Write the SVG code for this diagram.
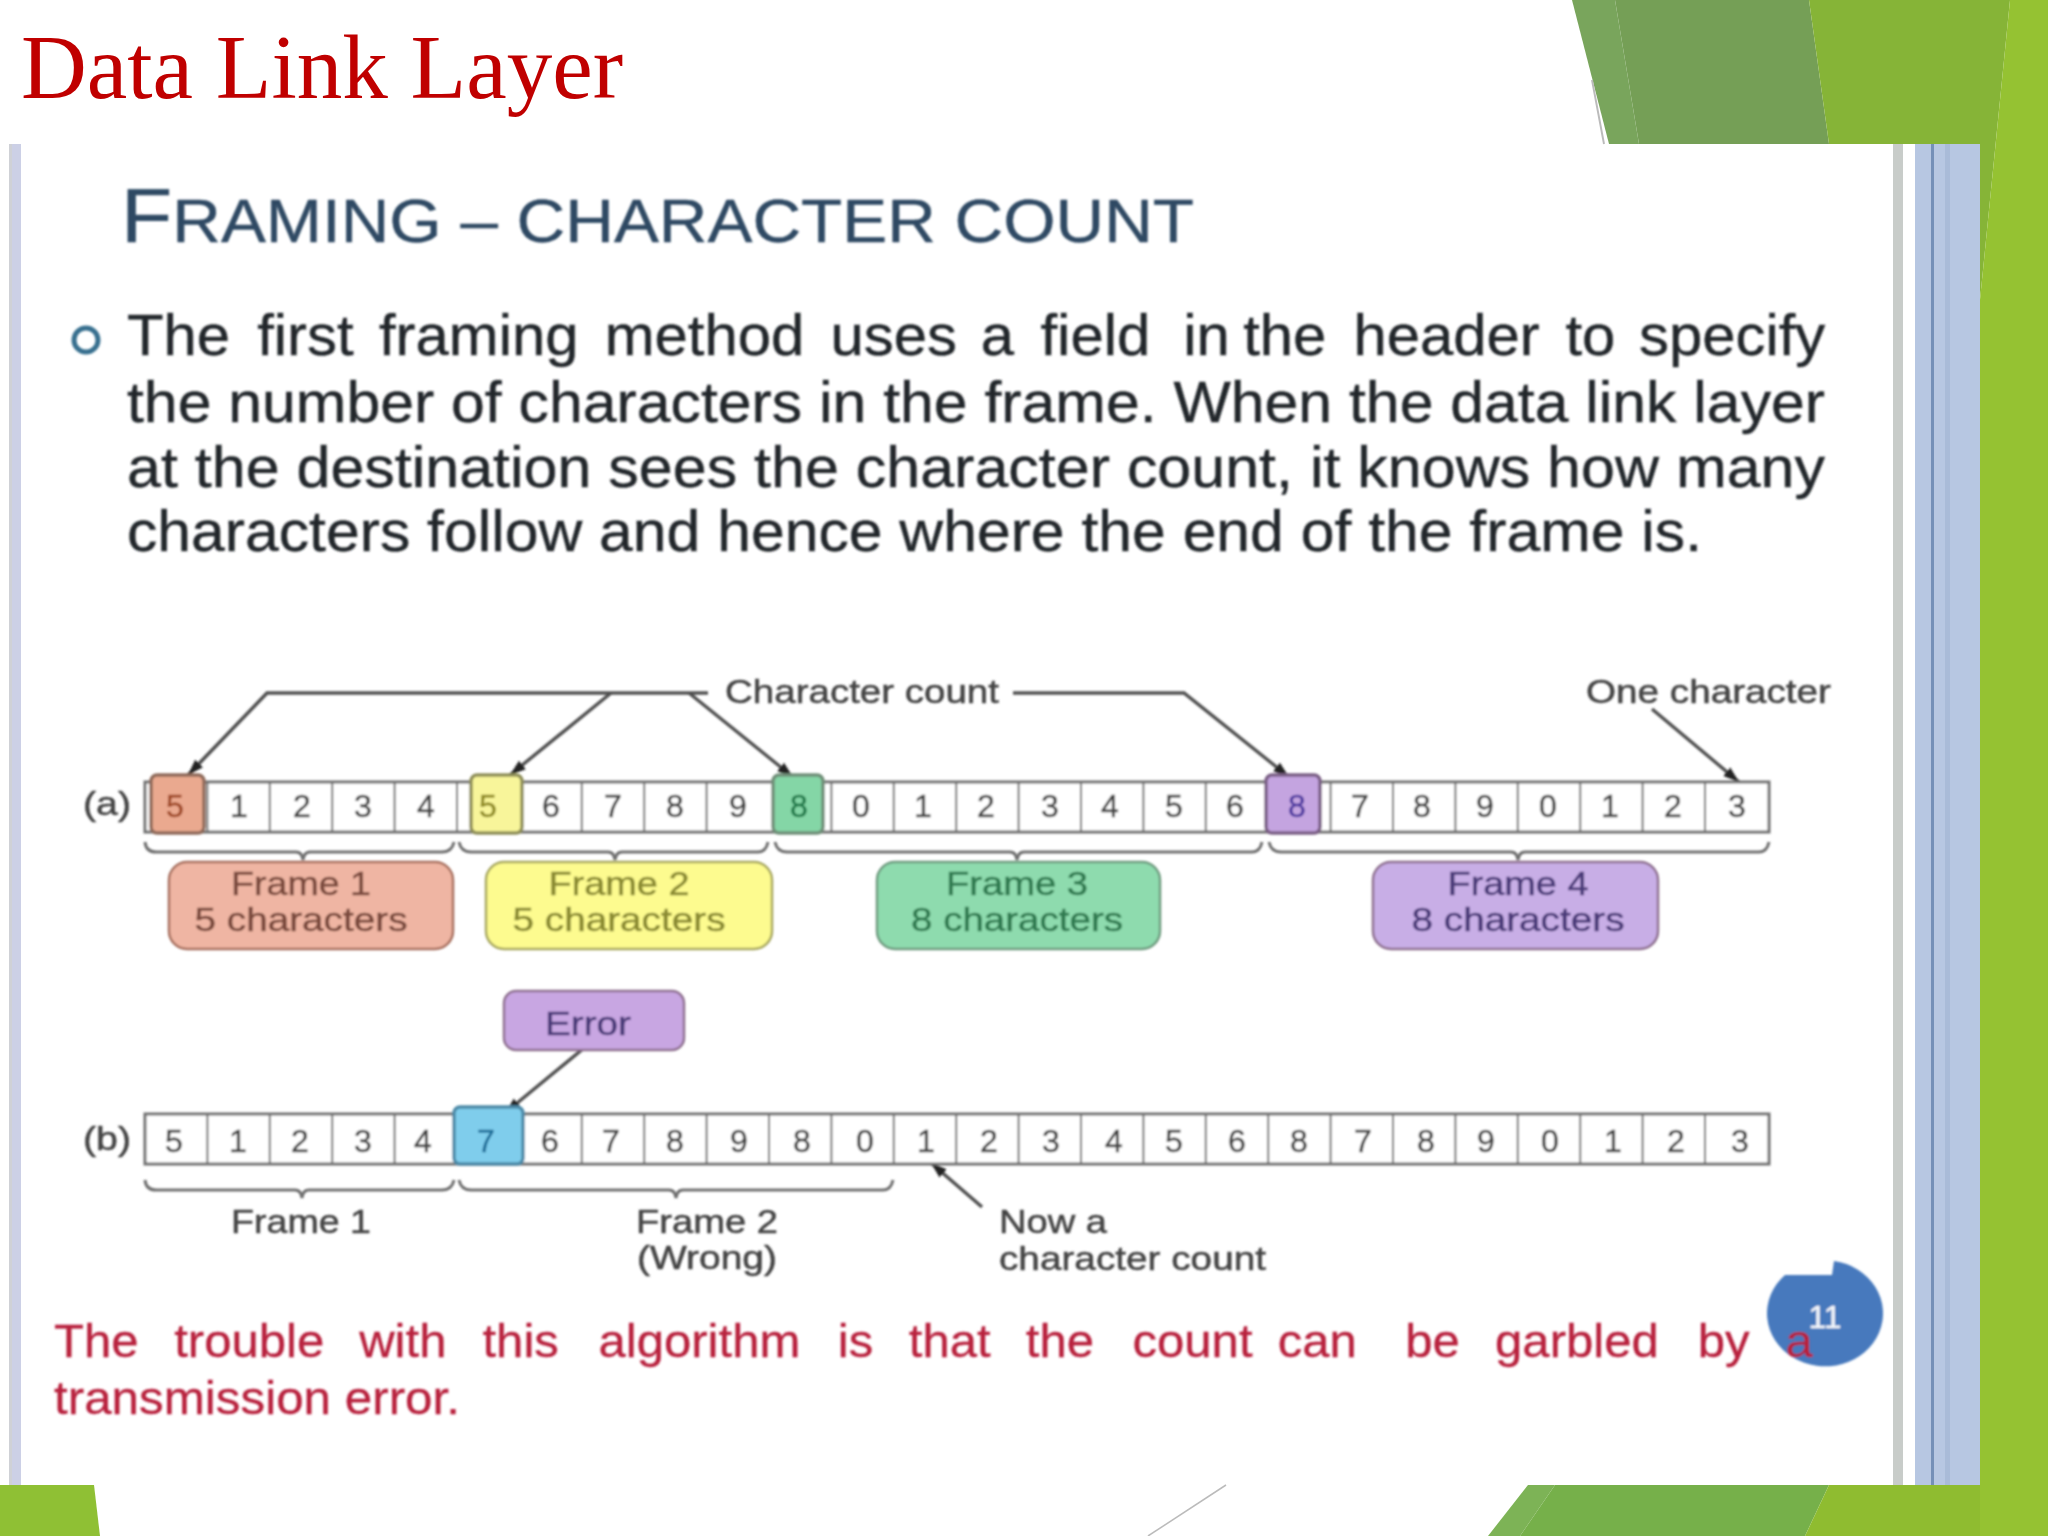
<svg xmlns="http://www.w3.org/2000/svg" width="2048" height="1536" viewBox="0 0 2048 1536">
<style>
.s{font-family:"Liberation Sans",Arial,sans-serif}
.lab{font-family:"Liberation Sans",Arial,sans-serif;font-size:33px;fill:#444;stroke:#444;stroke-width:.5}
.d{font-family:"Liberation Sans",Arial,sans-serif;font-size:32px;fill:#444;stroke:#444;stroke-width:.5;text-anchor:middle}
.c{text-anchor:middle;font-size:33px;stroke-width:.5}
.body{font-family:"Liberation Sans",Arial,sans-serif;font-size:57px;fill:#23272c;stroke:#23272c;stroke-width:.4}
.red{font-family:"Liberation Sans",Arial,sans-serif;font-size:47px;fill:#b8203c;stroke:#b8203c;stroke-width:.3}
.cell{fill:#fff;stroke:#707070;stroke-width:3}
.sep{fill:none;stroke:#707070;stroke-width:2}
.con{fill:none;stroke:#505050;stroke-width:3.500}
.br{fill:none;stroke:#707070;stroke-width:3}
.box{stroke-width:2.500}
</style>
<defs>
<marker id="ah" markerUnits="userSpaceOnUse" markerWidth="18" markerHeight="14" refX="16" refY="7" orient="auto"><path d="M0 1.500L16 7L0 12.500Z" fill="#222"/></marker>
<filter id="soft" x="-5%" y="-5%" width="110%" height="110%"><feGaussianBlur stdDeviation="1"/></filter>
</defs>
<rect width="2048" height="1536" fill="#fff"/>
<g id="chrome">
<polygon points="1572,0 1615,0 1639,144 1609,144" fill="#79a55c"/>
<polygon points="1615,0 1809,0 1829,144 1639,144" fill="#759f56"/>
<polygon points="1809,0 2010,0 1980,300 1980,144 1829,144" fill="#86b437"/>
<polygon points="2010,0 2048,0 2048,1536 1980,1536 1980,300" fill="#95c232"/>
<path d="M1592 80L1604 144" stroke="#bbb" stroke-width="2" fill="none"/>
<rect x="1893" y="144" width="10" height="1341" fill="#c8ccc9"/>
<rect x="1915" y="144" width="65" height="1341" fill="#b7c7e2"/>
<rect x="1931" y="144" width="3" height="1341" fill="#7590b8"/>
<rect x="1945" y="144" width="5" height="1341" fill="#a9bbd8"/>
<rect x="9" y="144" width="3" height="1341" fill="#cfd1d6"/>
<rect x="12" y="144" width="9" height="1341" fill="#ccd0e6"/>
<polygon points="0,1485 94,1485 100,1536 0,1536" fill="#8fc034"/>
<polygon points="1528,1485 1555,1485 1520,1536 1488,1536" fill="#7db356"/>
<polygon points="1555,1485 1829,1485 1805,1536 1520,1536" fill="#76b04a"/>
<polygon points="1829,1485 1980,1485 1980,1536 1805,1536" fill="#8fbc30"/>
<path d="M1226 1485L1148 1536" stroke="#bbb" stroke-width="1.500" fill="none"/>
</g>
<text id="title" x="21" y="98" font-family="'Liberation Serif','Times New Roman',serif" font-size="90" fill="#c00000" textLength="602" lengthAdjust="spacingAndGlyphs">Data Link Layer</text>
<g id="slide" filter="url(#soft)">
<text id="heading" class="s" x="121" y="242" font-size="61" fill="#2f4a64" stroke="#2f4a64" stroke-width=".4" textLength="1073" lengthAdjust="spacingAndGlyphs"><tspan font-size="76">F</tspan>RAMING – CHARACTER COUNT</text>
<circle id="bullet" cx="86" cy="340" r="12" fill="none" stroke="#37708f" stroke-width="5"/>
<text class="body" transform="translate(127 355) scale(1.05 1)"><tspan x="0">The</tspan> <tspan x="124">first</tspan> <tspan x="240">framing</tspan> <tspan x="455">method</tspan> <tspan x="670">uses</tspan> <tspan x="813">a</tspan> <tspan x="870">field</tspan> <tspan x="1006">in</tspan> <tspan x="1063">the</tspan> <tspan x="1168">header</tspan> <tspan x="1370">to</tspan> <tspan x="1440">specify</tspan></text>
<text class="body" x="127" y="422" textLength="1698" lengthAdjust="spacingAndGlyphs">the number of characters in the frame. When the data link layer</text>
<text class="body" x="127" y="487" textLength="1698" lengthAdjust="spacingAndGlyphs">at the destination sees the character count, it knows how many</text>
<text class="body" x="127" y="551" textLength="1575" lengthAdjust="spacingAndGlyphs">characters follow and hence where the end of the frame is.</text>
<g id="connectors">
<path class="con" d="M708 693H267L188 775" marker-end="url(#ah)"/>
<path class="con" d="M611 693L510 775" marker-end="url(#ah)"/>
<path class="con" d="M689 693L793 777" marker-end="url(#ah)"/>
<path class="con" d="M1013 693H1184L1289 777" marker-end="url(#ah)"/>
<path class="con" d="M1652 709L1739 782" marker-end="url(#ah)"/>
<path class="con" d="M584 1048L505 1113" marker-end="url(#ah)"/>
<path class="con" d="M982 1207L931 1163" marker-end="url(#ah)"/>
<path class="br" d="M145 842Q146 852 156 852H296Q302 852 303 860Q304 852 310 852H442Q452 852 454 842"/>
<path class="br" d="M459 842Q461 852 471 852H608Q614 852 615 860Q616 852 622 852H758Q766 852 768 842"/>
<path class="br" d="M775 842Q777 852 787 852H1010Q1016 852 1017 860Q1018 852 1024 852H1252Q1260 852 1262 842"/>
<path class="br" d="M1269 842Q1271 852 1281 852H1511Q1517 852 1518 860Q1519 852 1525 852H1759Q1767 852 1769 842"/>
<path class="br" d="M145 1180Q146 1190 156 1190H295Q301 1190 302 1198Q303 1190 309 1190H442Q452 1190 454 1180"/>
<path class="br" d="M459 1180Q461 1190 471 1190H669Q675 1190 676 1198Q677 1190 683 1190H883Q891 1190 893 1180"/>
</g>
<g id="row-a">
<text class="lab" x="83" y="815" textLength="48" lengthAdjust="spacingAndGlyphs">(a)</text>
<rect class="cell" x="145" y="782" width="1624" height="50"/>
<path class="sep" d="M207.400 782V832M269.800 782V832M332.200 782V832M394.600 782V832M457 782V832M581.800 782V832M644.200 782V832M706.600 782V832M831.400 782V832M893.800 782V832M956.200 782V832M1018.600 782V832M1081 782V832M1143.400 782V832M1205.800 782V832M1393 782V832M1330.600 782V832M1455.400 782V832M1517.800 782V832M1580.200 782V832M1642.600 782V832M1705 782V832"/>
<g id="cell-a0"><rect x="151" y="775" width="53" height="58" rx="6" fill="#eaa98f" stroke="#8f6a5a" stroke-width="3.500"/><text class="d" x="175" y="817" style="fill:#a04a28;stroke:#a04a28">5</text></g>
<text class="d" x="239" y="817">1</text><text class="d" x="302" y="817">2</text><text class="d" x="363" y="817">3</text><text class="d" x="426" y="817">4</text>
<g id="cell-a5"><rect x="471" y="775" width="51" height="58" rx="6" fill="#f8f59a" stroke="#8f8f58" stroke-width="3.500"/><text class="d" x="488" y="817" style="fill:#8f8a20;stroke:#8f8a20">5</text></g>
<text class="d" x="551" y="817">6</text><text class="d" x="613" y="817">7</text><text class="d" x="675" y="817">8</text><text class="d" x="738" y="817">9</text>
<g id="cell-a10"><rect x="773" y="775" width="50" height="58" rx="6" fill="#84d6a6" stroke="#6f8f78" stroke-width="3.500"/><text class="d" x="799" y="817" style="fill:#1f7a4a;stroke:#1f7a4a">8</text></g>
<text class="d" x="861" y="817">0</text><text class="d" x="923" y="817">1</text><text class="d" x="986" y="817">2</text><text class="d" x="1050" y="817">3</text><text class="d" x="1110" y="817">4</text><text class="d" x="1174" y="817">5</text><text class="d" x="1235" y="817">6</text>
<g id="cell-a18"><rect x="1266" y="775" width="54" height="58" rx="6" fill="#c4a4e0" stroke="#7a5f85" stroke-width="3.500"/><text class="d" x="1297" y="817" style="fill:#4f3aa0;stroke:#4f3aa0">8</text></g>
<text class="d" x="1360" y="817">7</text><text class="d" x="1422" y="817">8</text><text class="d" x="1485" y="817">9</text><text class="d" x="1548" y="817">0</text><text class="d" x="1610" y="817">1</text><text class="d" x="1673" y="817">2</text><text class="d" x="1737" y="817">3</text>
</g>
<g id="frame-1"><rect class="box" x="169" y="862" width="284" height="87" rx="18" fill="#efb5a3" stroke="#a8705f"/><text class="s c" x="301" y="895" fill="#7a4a3c" stroke="#7a4a3c" textLength="140" lengthAdjust="spacingAndGlyphs">Frame 1</text><text class="s c" x="301" y="931" fill="#7a4a3c" stroke="#7a4a3c" textLength="213" lengthAdjust="spacingAndGlyphs">5 characters</text></g>
<g id="frame-2"><rect class="box" x="486" y="862" width="286" height="87" rx="18" fill="#fdfb8f" stroke="#a8a860"/><text class="s c" x="619" y="895" fill="#8a8a30" stroke="#8a8a30" textLength="141" lengthAdjust="spacingAndGlyphs">Frame 2</text><text class="s c" x="619" y="931" fill="#8a8a30" stroke="#8a8a30" textLength="213" lengthAdjust="spacingAndGlyphs">5 characters</text></g>
<g id="frame-3"><rect class="box" x="877" y="862" width="283" height="87" rx="18" fill="#8edbae" stroke="#6f9c80"/><text class="s c" x="1017" y="895" fill="#2f7a50" stroke="#2f7a50" textLength="142" lengthAdjust="spacingAndGlyphs">Frame 3</text><text class="s c" x="1017" y="931" fill="#2f7a50" stroke="#2f7a50" textLength="212" lengthAdjust="spacingAndGlyphs">8 characters</text></g>
<g id="frame-4"><rect class="box" x="1373" y="862" width="285" height="87" rx="18" fill="#c8aee6" stroke="#8e6f8f"/><text class="s c" x="1518" y="895" fill="#4a3a78" stroke="#4a3a78" textLength="141" lengthAdjust="spacingAndGlyphs">Frame 4</text><text class="s c" x="1518" y="931" fill="#4a3a78" stroke="#4a3a78" textLength="213" lengthAdjust="spacingAndGlyphs">8 characters</text></g>
<text id="char-count" class="lab" x="725" y="703" textLength="274" lengthAdjust="spacingAndGlyphs">Character count</text>
<text id="one-char" class="lab" x="1586" y="703" textLength="245" lengthAdjust="spacingAndGlyphs">One character</text>
<g id="error"><rect class="box" x="504" y="991" width="180" height="59" rx="12" fill="#c8a6e2" stroke="#8e6f8f"/><text class="s c" x="588" y="1035" fill="#4a3a78" stroke="#4a3a78" textLength="86" lengthAdjust="spacingAndGlyphs">Error</text></g>
<g id="row-b">
<text class="lab" x="83" y="1150" textLength="48" lengthAdjust="spacingAndGlyphs">(b)</text>
<rect class="cell" x="145" y="1114" width="1624" height="50"/>
<path class="sep" d="M207.400 1114V1164M269.800 1114V1164M332.200 1114V1164M394.600 1114V1164M581.800 1114V1164M644.200 1114V1164M706.600 1114V1164M769 1114V1164M831.400 1114V1164M893.800 1114V1164M956.200 1114V1164M1018.600 1114V1164M1081 1114V1164M1143.400 1114V1164M1205.800 1114V1164M1268.200 1114V1164M1330.600 1114V1164M1393 1114V1164M1455.400 1114V1164M1517.800 1114V1164M1580.200 1114V1164M1642.600 1114V1164M1705 1114V1164"/>
<text class="d" x="174" y="1152">5</text><text class="d" x="238" y="1152">1</text><text class="d" x="300" y="1152">2</text><text class="d" x="363" y="1152">3</text><text class="d" x="423" y="1152">4</text>
<g id="cell-b5"><rect x="454" y="1107" width="69" height="57" rx="6" fill="#7fcdec" stroke="#4d8aa8" stroke-width="3.500"/><text class="d" x="486" y="1152" style="fill:#1f6f9a;stroke:#1f6f9a">7</text></g>
<text class="d" x="550" y="1152">6</text><text class="d" x="611" y="1152">7</text><text class="d" x="675" y="1152">8</text><text class="d" x="739" y="1152">9</text><text class="d" x="802" y="1152">8</text><text class="d" x="865" y="1152">0</text><text class="d" x="926" y="1152">1</text><text class="d" x="989" y="1152">2</text><text class="d" x="1051" y="1152">3</text><text class="d" x="1114" y="1152">4</text><text class="d" x="1174" y="1152">5</text><text class="d" x="1237" y="1152">6</text><text class="d" x="1299" y="1152">8</text><text class="d" x="1363" y="1152">7</text><text class="d" x="1426" y="1152">8</text><text class="d" x="1486" y="1152">9</text><text class="d" x="1550" y="1152">0</text><text class="d" x="1613" y="1152">1</text><text class="d" x="1676" y="1152">2</text><text class="d" x="1740" y="1152">3</text>
</g>
<text class="lab" x="231" y="1233" textLength="140" lengthAdjust="spacingAndGlyphs">Frame 1</text>
<text class="lab" x="636" y="1233" textLength="142" lengthAdjust="spacingAndGlyphs">Frame 2</text>
<text class="lab" x="637" y="1269" textLength="140" lengthAdjust="spacingAndGlyphs">(Wrong)</text>
<text class="lab" x="999" y="1233" textLength="108" lengthAdjust="spacingAndGlyphs">Now a</text>
<text class="lab" x="999" y="1270" textLength="267" lengthAdjust="spacingAndGlyphs">character count</text>
<g id="page-number"><path d="M1834 1261A58 53 0 1 1 1785 1275H1832Z" fill="#4679bd"/><text class="s" x="1825" y="1328" text-anchor="middle" font-size="32" fill="#f4f6fa" stroke="#f4f6fa" stroke-width=".4">11</text></g>
<text class="red" transform="translate(54 1357) scale(1.045 1)"><tspan x="0">The</tspan> <tspan x="115">trouble</tspan> <tspan x="292">with</tspan> <tspan x="410">this</tspan> <tspan x="521">algorithm</tspan> <tspan x="750">is</tspan> <tspan x="818">that</tspan> <tspan x="930">the</tspan> <tspan x="1032">count</tspan> <tspan x="1171">can</tspan> <tspan x="1293">be</tspan> <tspan x="1379">garbled</tspan> <tspan x="1573">by</tspan> <tspan x="1657">a</tspan></text>
<text class="red" x="54" y="1414" textLength="406" lengthAdjust="spacingAndGlyphs">transmission error.</text>
</g>
</svg>
